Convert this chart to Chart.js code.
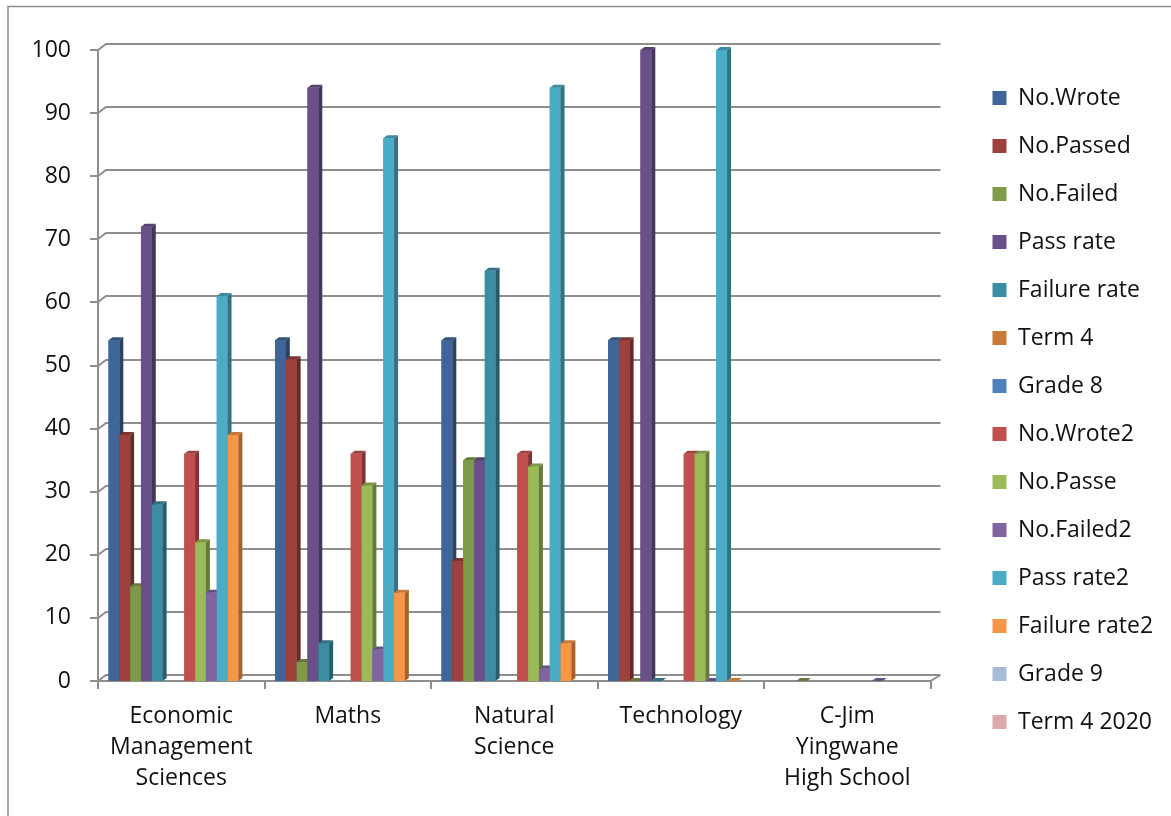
<!DOCTYPE html>
<html>
<head>
<meta charset="utf-8">
<script src="https://cdn.jsdelivr.net/npm/chart.js@4.4.1/dist/chart.umd.min.js"></script>
<style>
  html, body { margin: 0; padding: 0; background: #fff; }
  #wrap { width: 1171px; height: 816px; }
</style>
</head>
<body>
<div id="wrap"><canvas id="results-chart" width="1171" height="816"></canvas></div>
<script>
// Resultados por asignatura (barras 3D estilo Excel)

const categories = [
  ['Economic', 'Management', 'Sciences'],
  'Maths',
  ['Natural', 'Science'],
  'Technology',
  ['C-Jim', 'Yingwane', 'High School']
];

const yTickStep = 10;
const yMax = 100;

const noWrote      = [54, 54, 54, 54, null];
const noPassed     = [39, 51, 19, 54, null];
const noFailed     = [15, 3, 35, 0, 0];
const passRate     = [72, 94, 35, 100, null];
const failureRate  = [28, 6, 65, 0, null];
const term4        = [null, null, null, null, null];
const grade8       = [null, null, null, null, null];
const noWrote2     = [36, 36, 36, 36, null];
const noPasse      = [22, 31, 34, 36, null];
const noFailed2    = [14, 5, 2, 0, 0];
const passRate2    = [61, 86, 94, 100, null];
const failureRate2 = [39, 14, 6, 0, null];
const grade9       = [null, null, null, null, null];
const term4of2020  = [null, null, null, null, null];

const seriesNames = [
  'No.Wrote', 'No.Passed', 'No.Failed', 'Pass rate', 'Failure rate', 'Term 4', 'Grade 8',
  'No.Wrote2', 'No.Passe', 'No.Failed2', 'Pass rate2', 'Failure rate2', 'Grade 9', 'Term 4 2020'
];
const seriesData = [
  noWrote, noPassed, noFailed, passRate, failureRate, term4, grade8,
  noWrote2, noPasse, noFailed2, passRate2, failureRate2, grade9, term4of2020
];
const colors = [
  '#406699', // azul oscuro
  '#9e403c', // rojo oscuro
  '#7f9a48', // verde oliva
  '#6a5088', // púrpura
  '#3c8ca2', // turquesa
  '#cb7b38', // naranja oscuro
  '#4f81bd', // azul
  '#c0504d', // rojo
  '#9bbb59', // verde claro
  '#8064a2', // lila
  '#4bacc6', // celeste
  '#f79646', // naranja
  '#a9b9d8', // azul pálido
  '#d9aaa9'  // rosa
];

const FONT = '"Open Sans", "Noto Sans", sans-serif';
const gridColor = '#8e8e8e';
const depthX = 8, depthY = 6;      // profundidad de pared/suelo
const barDX = 4, barDY = 3;        // profundidad de cada barra
const barShift = 3;                // barras a media profundidad

function shade(hex, f) {
  const n = parseInt(hex.slice(1), 16);
  const r = Math.round(((n >> 16) & 255) * f);
  const g = Math.round(((n >> 8) & 255) * f);
  const b = Math.round((n & 255) * f);
  return `rgb(${r}, ${g}, ${b})`;
}

// Marco, paredes y suelo
const wallPlugin = {
  id: 'wall',
  beforeDraw(chart) {
    const { ctx } = chart;
    ctx.save();
    ctx.strokeStyle = '#8c8c8c';
    ctx.lineWidth = 1.5;
    ctx.beginPath();
    ctx.moveTo(8, chart.height);
    ctx.lineTo(8, 6.5);
    ctx.lineTo(chart.width, 6.5);
    ctx.stroke();
    ctx.restore();
  },
  beforeDatasetsDraw(chart) {
    const { ctx, chartArea: a, scales: { y } } = chart;
    ctx.save();
    ctx.strokeStyle = gridColor;
    ctx.lineWidth = 2;
    ctx.beginPath();
    y.ticks.forEach(t => {
      const py = Math.round(y.getPixelForValue(t.value));
      ctx.moveTo(a.left - 8, py);
      ctx.lineTo(a.left, py);
      ctx.lineTo(a.left + depthX, py - depthY);
      ctx.lineTo(a.right + depthX + 2, py - depthY);
    });
    // eje vertical
    ctx.moveTo(a.left, Math.round(y.getPixelForValue(yMax)));
    ctx.lineTo(a.left, a.bottom);
    // borde frontal del suelo
    ctx.moveTo(a.left, a.bottom);
    ctx.lineTo(a.right, a.bottom);
    ctx.lineTo(a.right + depthX + 2, a.bottom - depthY);
    // marcas de categoría
    const w = (a.right - a.left) / categories.length;
    for (let i = 0; i <= categories.length; i++) {
      const px = Math.round(a.left + i * w);
      ctx.moveTo(px, a.bottom);
      ctx.lineTo(px, a.bottom + 8);
    }
    ctx.stroke();
    ctx.restore();
  }
};

// Caras frontal, lateral y superior de cada barra, en orden de serie
const bars3dPlugin = {
  id: 'bars3d',
  afterDatasetsUpdate(chart) {
    chart.data.datasets.forEach((ds, i) => {
      chart.getDatasetMeta(i).data.forEach(el => { el.x += barShift; });
    });
  },
  afterDatasetsDraw(chart) {
    const { ctx } = chart;
    ctx.save();
    categories.forEach((c, j) => {
      chart.data.datasets.forEach((ds, i) => {
        if (ds.data[j] === null || ds.data[j] === undefined) return;
        const el = chart.getDatasetMeta(i).data[j];
        const { x, y, base, width } = el.getProps(['x', 'y', 'base', 'width'], true);
        const left = x - width / 2, right = x + width / 2;
        const color = colors[i];
        ctx.fillStyle = color;
        ctx.fillRect(left, y, width, base - y);
        // lateral
        ctx.fillStyle = shade(color, 0.66);
        ctx.beginPath();
        ctx.moveTo(right, y);
        ctx.lineTo(right + barDX, y - barDY);
        ctx.lineTo(right + barDX, base - barDY);
        ctx.lineTo(right, base);
        ctx.closePath();
        ctx.fill();
        // superior
        ctx.fillStyle = shade(color, 0.8);
        ctx.beginPath();
        ctx.moveTo(left, y);
        ctx.lineTo(left + barDX, y - barDY);
        ctx.lineTo(right + barDX, y - barDY);
        ctx.lineTo(right, y);
        ctx.closePath();
        ctx.fill();
      });
    });
    ctx.restore();
  }
};

const ctx = document.getElementById('results-chart').getContext('2d');

new Chart(ctx, {
  type: 'bar',
  data: {
    labels: categories,
    datasets: seriesNames.map((name, idx) => ({
      label: name,
      data: seriesData[idx],
      backgroundColor: colors[idx],
      borderWidth: 0,
      xAxisID: 'x',
      yAxisID: 'y'
    }))
  },
  options: {
    responsive: false,
    animation: false,
    events: [],
    layout: { padding: { top: 4, left: 0, right: 10, bottom: 0 } },
    datasets: {
      bar: { categoryPercentage: 0.91, barPercentage: 1 }
    },
    plugins: {
      legend: {
        position: 'right',
        labels: {
          boxWidth: 14,
          boxHeight: 14,
          padding: 25,
          color: '#111',
          font: { family: FONT, size: 23 }
        }
      },
      tooltip: { enabled: false },
      title: { display: false }
    },
    scales: {
      x: {
        grid: { display: false, drawTicks: false },
        border: { display: false },
        ticks: {
          color: '#111',
          padding: 20,
          maxRotation: 0,
          autoSkip: false,
          font: { family: FONT, size: 23, lineHeight: 1.35 }
        },
        afterFit: s => { s.height = 135; }
      },
      y: {
        min: 0,
        max: yMax,
        grid: { display: false, drawTicks: false },
        border: { display: false },
        ticks: {
          stepSize: yTickStep,
          color: '#111',
          padding: 27,
          font: { family: FONT, size: 23 }
        },
        afterFit: s => { s.width = 98; }
      },
      topGap: {
        type: 'linear',
        position: 'top',
        grid: { display: false, drawTicks: false },
        border: { display: false },
        ticks: { display: false },
        afterFit: s => { s.height = 46; }
      },
      rightGap: {
        type: 'linear',
        position: 'right',
        grid: { display: false, drawTicks: false },
        border: { display: false },
        ticks: { display: false },
        afterFit: s => { s.width = 37; }
      }
    }
  },
  plugins: [wallPlugin, bars3dPlugin]
});
</script>
</body>
</html>
